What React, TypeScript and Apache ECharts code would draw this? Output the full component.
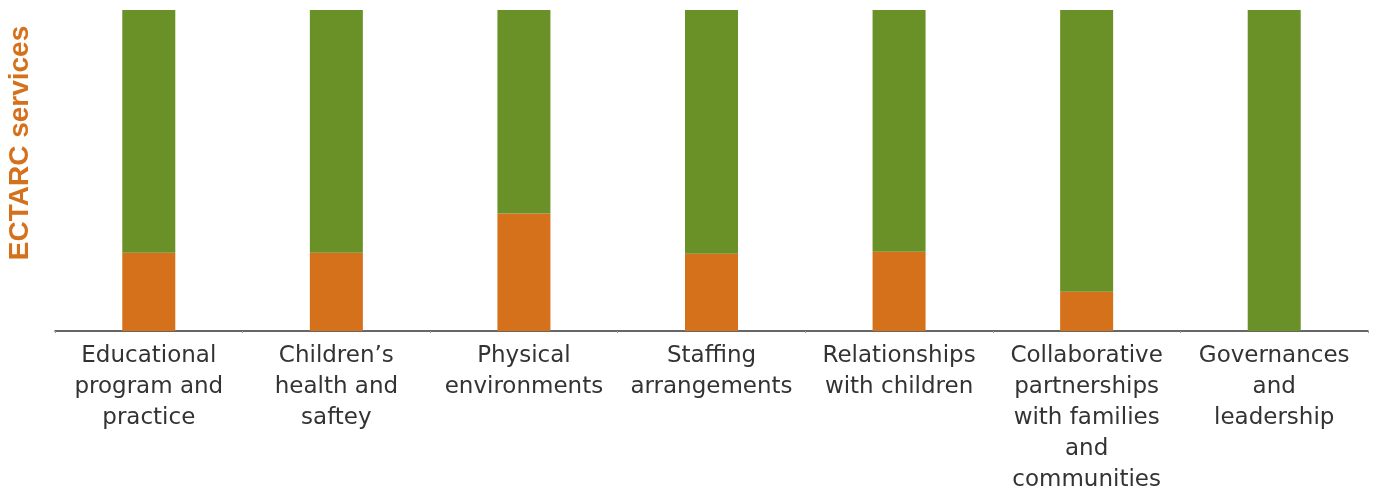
import React, { useEffect, useRef } from "react";
import * as echarts from "echarts";

const categories = [
  "Educational\nprogram and\npractice",
  "Children’s\nhealth and\nsaftey",
  "Physical\nenvironments",
  "Staffing\narrangements",
  "Relationships\nwith children",
  "Collaborative\npartnerships\nwith families\nand\ncommunities",
  "Governances\nand\nleadership",
];
const orangeValues = [24.4, 24.4, 36.6, 24.1, 24.7, 12.2, 0];
const greenValues = [75.6, 75.6, 63.4, 75.9, 75.3, 87.8, 100];
const axisTitle = "ECTARC services";

export default function App() {
  const ref = useRef<HTMLDivElement>(null);
  useEffect(() => {
    document.body.style.margin = "0";
    const chart = echarts.init(ref.current!, null, { renderer: "svg" });
    chart.setOption({
      animation: false,
      grid: { left: 55, right: 13, top: 10, bottom: 161, containLabel: false },
      xAxis: {
        type: "category",
        data: categories,
        axisLine: { show: true, lineStyle: { color: "#333", width: 1.5 } },
        axisTick: { show: true, length: 2, lineStyle: { color: "#999" } },
        axisLabel: {
          interval: 0,
          margin: 7,
          color: "#333",
          fontSize: 23,
          lineHeight: 31,
          fontFamily: "DejaVu Sans",
        },
      },
      yAxis: {
        type: "value",
        min: 0,
        max: 100,
        show: false,
        splitLine: { show: false },
      },
      graphic: [
        {
          type: "text",
          x: 18,
          y: 143,
          rotation: Math.PI / 2,
          style: {
            text: axisTitle,
            fill: "#D5711A",
            font: "bold 28px Arial, 'Liberation Sans'",
            align: "center",
            verticalAlign: "middle",
          },
        },
      ],
      series: [
        {
          type: "bar",
          stack: "s",
          data: orangeValues,
          barWidth: 53,
          itemStyle: { color: "#D5711A" },
        },
        {
          type: "bar",
          stack: "s",
          data: greenValues,
          barWidth: 53,
          itemStyle: { color: "#6A9128" },
        },
      ],
    });
    return () => chart.dispose();
  }, []);
  return (
    <div
      ref={ref}
      style={{ position: "fixed", left: 0, top: 0, width: 1381, height: 493 }}
    />
  );
}
